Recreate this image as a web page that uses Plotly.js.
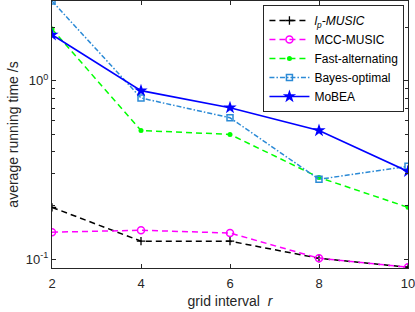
<!DOCTYPE html>
<html><head><meta charset="utf-8">
<script src="https://cdn.plot.ly/plotly-3.0.1.min.js"></script>
<style>body{margin:0;padding:0;background:#fff}</style>
</head><body>
<div id="chart" style="width:415px;height:312px"></div>
<script>
const gridInterval = [2, 4, 6, 8, 10];
const lpMusic = [0.195, 0.126, 0.126, 0.101, 0.090];
const mccMusic = [0.1415, 0.145, 0.140, 0.101, 0.090];
const fastAlt = [1.95, 0.526, 0.50, 0.287, 0.195];
const bayesOpt = [2.80, 0.80, 0.62, 0.28, 0.331];
const mobea = [1.81, 0.88, 0.706, 0.526, 0.31];
const seriesNames = ['<i>l</i><sub><i>p</i></sub><i>-MUSIC</i>', 'MCC-MUSIC', 'Fast-alternating', 'Bayes-optimal', 'MoBEA'];
const xTicks = [2, 4, 6, 8, 10];
const yTicks = [0.1, 1];
const yTickText = ['10<sup>-1</sup>', '10<sup>0</sup>'];
const yMinor = [0.2, 0.3, 0.4, 0.5, 0.6, 0.7, 0.8, 0.9, 2];

const traces = [
  {x: gridInterval, y: lpMusic, name: seriesNames[0], mode: 'lines+markers',
   line: {color: '#000000', dash: '6px,4px', width: 1.5},
   marker: {symbol: 'cross-thin', size: 6, line: {color: '#000000', width: 1.3}}},
  {x: gridInterval, y: mccMusic, name: seriesNames[1], mode: 'lines+markers',
   line: {color: '#ff00ff', dash: '6px,4px', width: 1.5},
   marker: {symbol: 'circle-open', size: 7, color: '#ff00ff', line: {width: 1.5}}},
  {x: gridInterval, y: fastAlt, name: seriesNames[2], mode: 'lines+markers',
   line: {color: '#00ff00', dash: '6px,4px', width: 1.5},
   marker: {symbol: 'circle', size: 5, color: '#00ff00'}},
  {x: gridInterval, y: bayesOpt, name: seriesNames[3], mode: 'lines+markers',
   line: {color: '#2b8ad6', dash: '5px,2px,1.5px,2px', width: 1.5},
   marker: {symbol: 'square-open', size: 6, color: '#2b8ad6', line: {width: 1.5}}},
  {x: gridInterval, y: mobea, name: seriesNames[4], mode: 'lines+markers',
   line: {color: '#0000ff', width: 1.6},
   marker: {symbol: 'star', size: 10, color: '#0000ff'}}
];

const layout = {
  width: 415, height: 312,
  margin: {l: 52, r: 7, t: 1, b: 44},
  paper_bgcolor: '#ffffff', plot_bgcolor: '#ffffff',
  font: {family: 'Liberation Sans, Arial, sans-serif', size: 13, color: '#262626'},
  showlegend: true,
  legend: {x: 0.99, xanchor: 'right', y: 0.985, yanchor: 'top',
           bgcolor: '#ffffff', bordercolor: '#262626', borderwidth: 1,
           font: {size: 12, color: '#000000'}, tracegroupgap: 0, itemwidth: 40},
  xaxis: {range: [2, 10], tickvals: xTicks, ticks: 'inside', ticklen: 4,
          showgrid: false, zeroline: false, showline: true, mirror: 'ticks',
          linecolor: '#262626', tickcolor: '#262626', linewidth: 1,
          ticklabelstandoff: 3, ticklabeloverflow: 'allow',
          tickfont: {size: 13, color: '#262626'},
          title: {text: 'grid interval  <i>r</i>', font: {size: 14, color: '#262626'}, standoff: 6}},
  yaxis: {type: 'log', range: [Math.log10(0.0891), Math.log10(2.80)],
          tickvals: yTicks, ticktext: yTickText, ticks: 'inside', ticklen: 4,
          showgrid: false, zeroline: false, showline: true, mirror: 'ticks',
          linecolor: '#262626', tickcolor: '#262626', linewidth: 1,
          tickfont: {size: 13, color: '#262626'},
          minor: {tickvals: yMinor, ticks: 'inside', ticklen: 3, tickcolor: '#262626', showgrid: false},
          title: {text: 'average running time /s', font: {size: 14, color: '#262626'}, standoff: 3}}
};

Plotly.newPlot('chart', traces, layout, {displayModeBar: false, staticPlot: true});
</script>
</body></html>
